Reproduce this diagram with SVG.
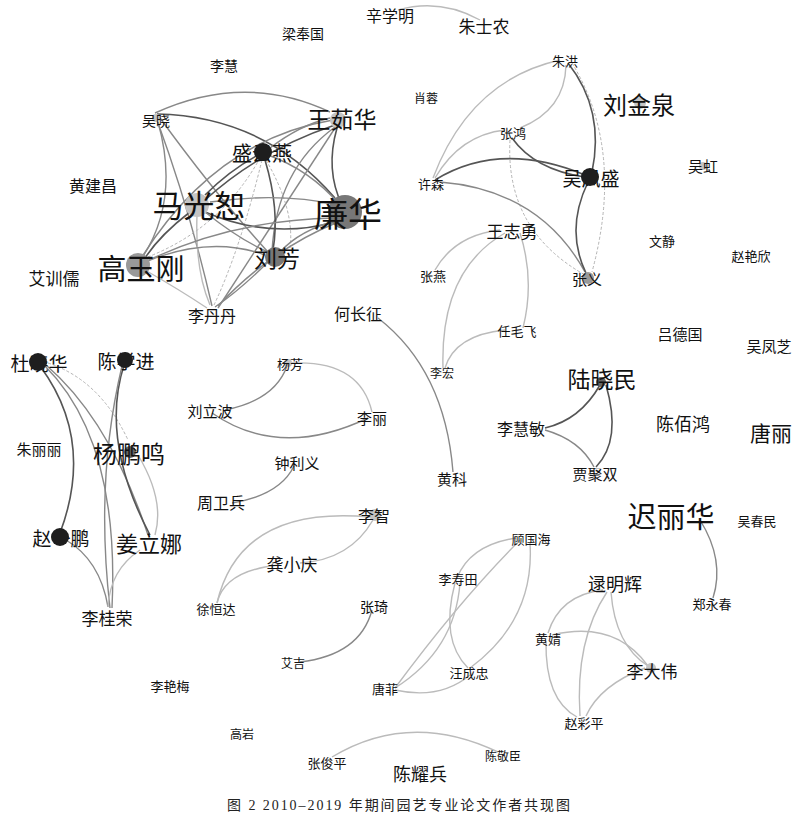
<svg xmlns="http://www.w3.org/2000/svg" width="800" height="820" viewBox="0 0 800 820">
<style>
text{font-family:"Noto Sans CJK SC","Noto Sans",sans-serif;fill:#111;text-anchor:middle;dominant-baseline:central}
.cap{font-family:"Liberation Serif","Noto Sans CJK SC",serif;font-size:14px;text-anchor:start;dominant-baseline:auto;fill:#222}
path{fill:none}
.d{stroke:#555;stroke-width:1.6}
.m{stroke:#888;stroke-width:1.4}
.l{stroke:#bbb;stroke-width:1.4}
.t{stroke:#aaa;stroke-width:0.9;stroke-dasharray:3 2}
.nk{fill:#1e1e1e}
.ng{fill:#777}
.nm{fill:#999}
.nl{fill:#c4c4c4}
</style>
<rect width="800" height="820" fill="#fff"/>
<g id="edges">
<path class="l" d="M398,10 Q440,-2 480,20"/>
<path class="m" d="M155,113 Q245,72 330,112"/>
<path class="d" d="M157,114 Q264,116 335,198"/>
<path class="m" d="M157,120 Q190,210 212,306"/>
<path class="m" d="M160,118 Q216,195 268,252"/>
<path class="m" d="M158,122 Q180,200 142,258"/>
<path class="m" d="M333,120 Q214,140 140,260"/>
<path class="d" d="M335,125 Q260,150 205,200"/>
<path class="d" d="M337,128 Q325,170 342,205"/>
<path class="m" d="M335,127 Q276,170 272,252"/>
<path class="m" d="M335,128 Q300,182 218,308"/>
<path class="d" d="M258,155 Q230,170 205,195"/>
<path class="t" d="M260,158 Q220,230 145,258"/>
<path class="t" d="M262,160 Q240,250 214,305"/>
<path class="t" d="M266,160 Q295,210 290,248"/>
<path class="d" d="M265,160 Q280,210 273,250"/>
<path class="m" d="M268,155 Q310,170 340,205"/>
<path class="m" d="M270,148 Q300,125 330,118"/>
<path class="m" d="M210,202 Q280,192 338,205"/>
<path class="d" d="M205,212 Q270,240 335,222"/>
<path class="m" d="M205,212 Q240,240 268,252"/>
<path class="d" d="M190,212 Q160,235 145,258"/>
<path class="l" d="M197,215 Q195,270 210,305"/>
<path class="m" d="M335,218 Q230,220 145,262"/>
<path class="m" d="M338,220 Q300,230 280,252"/>
<path class="m" d="M338,222 Q270,250 218,306"/>
<path class="m" d="M145,262 Q210,235 265,255"/>
<path class="l" d="M145,270 Q180,290 207,308"/>
<path class="m" d="M268,262 Q240,290 215,307"/>
<path class="l" d="M560,60 Q470,80 433,178"/>
<path class="l" d="M566,65 Q565,110 520,128"/>
<path class="d" d="M568,63 Q605,110 592,172"/>
<path class="t" d="M572,63 Q625,150 592,272"/>
<path class="l" d="M505,130 Q460,135 435,178"/>
<path class="d" d="M512,138 Q535,170 585,177"/>
<path class="t" d="M510,140 Q505,230 585,275"/>
<path class="d" d="M435,180 Q500,140 585,175"/>
<path class="m" d="M440,182 Q540,190 585,272"/>
<path class="d" d="M588,182 Q565,230 586,273"/>
<path class="l" d="M500,230 Q455,235 435,270"/>
<path class="l" d="M505,233 Q440,270 443,368"/>
<path class="l" d="M520,233 Q535,280 523,328"/>
<path class="l" d="M505,330 Q455,335 445,368"/>
<path class="m" d="M378,318 Q445,370 453,472"/>
<path class="m" d="M287,366 Q275,400 225,410"/>
<path class="l" d="M292,363 Q360,360 372,412"/>
<path class="m" d="M212,413 Q280,460 368,418"/>
<path class="m" d="M294,466 Q280,495 232,503"/>
<path class="l" d="M373,520 Q350,560 300,563"/>
<path class="l" d="M370,517 Q240,505 217,603"/>
<path class="l" d="M280,565 Q225,570 217,603"/>
<path class="m" d="M372,610 Q360,655 300,662"/>
<path class="d" d="M40,366 Q95,440 60,533" stroke-width="2"/>
<path class="m" d="M44,365 Q120,440 112,608"/>
<path class="m" d="M46,365 Q110,420 148,535"/>
<path class="t" d="M48,363 Q100,380 128,440"/>
<path class="d" d="M124,365 Q100,440 150,535"/>
<path class="m" d="M122,366 Q95,480 110,608"/>
<path class="l" d="M138,455 Q165,500 155,535"/>
<path class="m" d="M66,540 Q100,560 108,607"/>
<path class="l" d="M140,550 Q110,570 108,607"/>
<path class="m" d="M700,520 Q725,560 713,598"/>
<path class="d" d="M600,385 Q580,420 545,428"/>
<path class="d" d="M606,385 Q622,440 596,467"/>
<path class="m" d="M545,430 Q580,440 594,467"/>
<path class="l" d="M516,538 Q470,545 457,578"/>
<path class="l" d="M530,543 Q535,620 470,668"/>
<path class="l" d="M520,540 Q460,600 395,688"/>
<path class="l" d="M455,583 Q440,640 468,668"/>
<path class="l" d="M460,583 Q455,650 395,688"/>
<path class="l" d="M470,675 Q440,700 395,690"/>
<path class="l" d="M603,590 Q560,595 548,633"/>
<path class="l" d="M607,592 Q575,640 580,716"/>
<path class="l" d="M611,592 Q615,645 648,666"/>
<path class="l" d="M552,635 Q615,620 648,666"/>
<path class="l" d="M546,641 Q545,700 577,717"/>
<path class="l" d="M586,716 Q600,685 645,668"/>
<path class="l" d="M332,757 Q410,710 498,752"/>
</g>
<g id="n1"><text x="390" y="15" font-size="16">辛学明</text></g>
<g id="n2"><text x="484" y="25" font-size="17">朱士农</text></g>
<g id="n3"><text x="303" y="33" font-size="14">梁奉国</text></g>
<g id="n4"><text x="224" y="65" font-size="14">李慧</text></g>
<g id="n5"><circle class="nl" cx="156" cy="118" r="4"/><text x="156" y="120" font-size="14">吴晓</text></g>
<g id="n6"><circle class="nl" cx="338" cy="120" r="8"/><text x="342" y="118" font-size="23">王茹华</text></g>
<g id="n7"><text x="262" y="152" font-size="20">盛云燕</text><circle class="nk" cx="263" cy="152" r="9"/></g>
<g id="n8"><text x="93" y="185" font-size="16">黄建昌</text></g>
<g id="n9"><circle class="nl" cx="197" cy="205" r="12"/><text x="199" y="203" font-size="31">马光恕</text></g>
<g id="n10"><circle class="ng" cx="345" cy="212" r="17"/><text x="348" y="212" font-size="34">廉华</text></g>
<g id="n11"><circle class="nm" cx="138" cy="265" r="12"/><text x="141" y="267" font-size="29">高玉刚</text></g>
<g id="n12"><circle class="ng" cx="275" cy="257" r="10"/><text x="277" y="257" font-size="23">刘芳</text></g>
<g id="n13"><text x="54" y="277" font-size="17">艾训儒</text></g>
<g id="n14"><text x="212" y="315" font-size="16">李丹丹</text></g>
<g id="n15"><text x="358" y="313" font-size="16">何长征</text></g>
<g id="n16"><text x="565" y="60" font-size="13">朱洪</text></g>
<g id="n17"><text x="426" y="97" font-size="12">肖蓉</text></g>
<g id="n18"><circle class="nl" cx="640" cy="103" r="6"/><text x="639" y="103" font-size="24">刘金泉</text></g>
<g id="n19"><text x="513" y="132" font-size="13">张鸿</text></g>
<g id="n20"><text x="431" y="183" font-size="13">许森</text></g>
<g id="n21"><text x="591" y="177" font-size="19">吴凤盛</text><circle class="nk" cx="590" cy="177" r="9"/></g>
<g id="n22"><circle class="nl" cx="703" cy="166" r="4"/><text x="703" y="165" font-size="15">吴虹</text></g>
<g id="n23"><text x="512" y="230" font-size="17">王志勇</text></g>
<g id="n24"><text x="433" y="275" font-size="13">张燕</text></g>
<g id="n25"><circle class="nm" cx="588" cy="278" r="6"/><text x="587" y="278" font-size="15">张义</text></g>
<g id="n26"><text x="662" y="240" font-size="13">文静</text></g>
<g id="n27"><text x="751" y="255" font-size="13">赵艳欣</text></g>
<g id="n28"><text x="39" y="362" font-size="19">杜晓华</text><circle class="nk" cx="38" cy="362" r="9"/></g>
<g id="n29"><text x="126" y="360" font-size="19">陈学进</text><circle class="nk" cx="125" cy="360" r="8"/></g>
<g id="n30"><circle class="nl" cx="288" cy="363" r="4"/><text x="290" y="363" font-size="13">杨芳</text></g>
<g id="n31"><text x="210" y="410" font-size="15">刘立波</text></g>
<g id="n32"><text x="372" y="417" font-size="15">李丽</text></g>
<g id="n33"><text x="39" y="448" font-size="15">朱丽丽</text></g>
<g id="n34"><circle fill="#666" cx="130" cy="452" r="6"/><text x="129" y="452" font-size="24">杨鹏鸣</text></g>
<g id="n35"><text x="297" y="462" font-size="15">钟利义</text></g>
<g id="n36"><text x="221" y="502" font-size="16">周卫兵</text></g>
<g id="n37"><circle class="nl" cx="375" cy="515" r="6"/><text x="374" y="515" font-size="16">李智</text></g>
<g id="n38"><text x="61" y="537" font-size="19">赵一鹏</text><circle class="nk" cx="60" cy="537" r="9"/></g>
<g id="n39"><text x="149" y="542" font-size="22">姜立娜</text></g>
<g id="n40"><text x="292" y="563" font-size="17">龚小庆</text></g>
<g id="n41"><text x="216" y="608" font-size="13">徐恒达</text></g>
<g id="n42"><text x="374" y="606" font-size="14">张琦</text></g>
<g id="n43"><text x="107" y="617" font-size="17">李桂荣</text></g>
<g id="n44"><text x="517" y="330" font-size="13">任毛飞</text></g>
<g id="n45"><text x="680" y="333" font-size="15">吕德国</text></g>
<g id="n46"><text x="769" y="345" font-size="15">吴凤芝</text></g>
<g id="n47"><text x="442" y="372" font-size="12">李宏</text></g>
<g id="n48"><circle fill="#666" cx="601" cy="382" r="5"/><text x="602" y="378" font-size="23">陆晓民</text></g>
<g id="n49"><text x="521" y="428" font-size="16">李慧敏</text></g>
<g id="n50"><text x="683" y="423" font-size="18">陈佰鸿</text></g>
<g id="n51"><text x="771" y="432" font-size="21">唐丽</text></g>
<g id="n52"><text x="595" y="473" font-size="15">贾聚双</text></g>
<g id="n53"><text x="452" y="478" font-size="15">黄科</text></g>
<g id="n54"><text x="671" y="515" font-size="29">迟丽华</text></g>
<g id="n55"><text x="757" y="520" font-size="13">吴春民</text></g>
<g id="n56"><text x="531" y="538" font-size="13">顾国海</text></g>
<g id="n57"><text x="458" y="578" font-size="13">李寿田</text></g>
<g id="n58"><text x="615" y="583" font-size="18">逯明辉</text></g>
<g id="n59"><text x="712" y="603" font-size="13">郑永春</text></g>
<g id="n60"><text x="293" y="662" font-size="12">艾吉</text></g>
<g id="n61"><text x="469" y="672" font-size="13">汪成忠</text></g>
<g id="n62"><text x="170" y="685" font-size="13">李艳梅</text></g>
<g id="n63"><text x="385" y="688" font-size="13">唐菲</text></g>
<g id="n64"><text x="242" y="733" font-size="12">高岩</text></g>
<g id="n65"><text x="327" y="762" font-size="13">张俊平</text></g>
<g id="n66"><text x="420" y="773" font-size="18">陈耀兵</text></g>
<g id="n67"><text x="503" y="755" font-size="12">陈敬臣</text></g>
<g id="n68"><text x="548" y="638" font-size="13">黄婧</text></g>
<g id="n69"><circle class="nl" cx="651" cy="668" r="5"/><text x="652" y="670" font-size="17">李大伟</text></g>
<g id="n70"><text x="584" y="722" font-size="13">赵彩平</text></g>
<text class="cap" x="227" y="810" textLength="343" lengthAdjust="spacing">图 2 2010–2019 年期间园艺专业论文作者共现图</text>
</svg>
